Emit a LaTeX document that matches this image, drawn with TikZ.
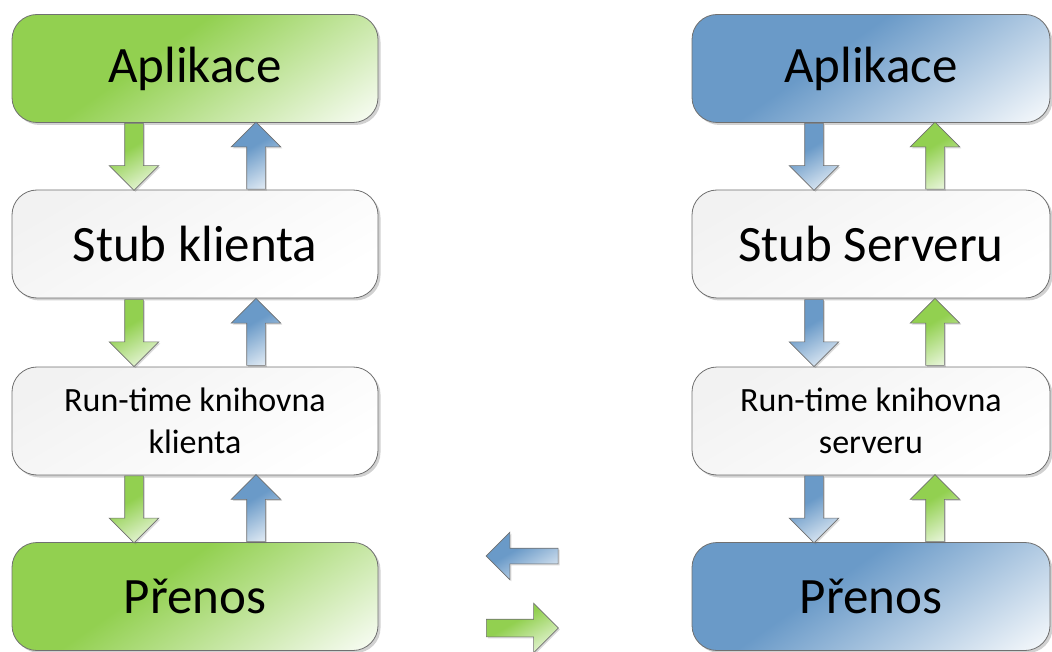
\documentclass[tikz,border=0pt]{standalone}
\usepackage{fontspec}
\setmainfont{Carlito}
\usetikzlibrary{shapes.arrows,shadows,calc}
\definecolor{grn}{HTML}{92D050}
\definecolor{blu}{HTML}{6A9AC8}
\definecolor{rim}{HTML}{707070}
\pgfdeclarehorizontalshading{grnfade}{100bp}{color(0bp)=(grn); color(42bp)=(grn);
	color(82bp)=(grn!10!white); color(100bp)=(grn!10!white)}
\pgfdeclarehorizontalshading{blufade}{100bp}{color(0bp)=(blu); color(42bp)=(blu);
	color(82bp)=(blu!10!white); color(100bp)=(blu!10!white)}
\pgfdeclarehorizontalshading{palefade}{100bp}{color(0bp)=(black!5); color(25bp)=(black!5);
	color(75bp)=(white); color(100bp)=(white)}
\tikzset{
    box/.style={rounded corners=25pt, draw=rim, line width=0.8pt, shade,
    	minimum height=108pt, align=center,
    	drop shadow={shadow xshift=2.5pt, shadow yshift=-2.5pt, opacity=.3, fill=black!60}},
    big/.style={font=\fontsize{51}{60}\selectfont},
    small/.style={font=\fontsize{34}{42}\selectfont},
    green box/.style={box, shading=grnfade, shading angle=-55},
    blue box/.style={box, shading=blufade, shading angle=-55},
    pale box/.style={box, shading=palefade, shading angle=-60}
}
\tikzset{
    flow/.style={single arrow, draw=rim, line width=0.6pt, shade, inner sep=9pt,
    	single arrow head extend=15.5pt, minimum height=67pt,
    	drop shadow={shadow xshift=1.5pt, shadow yshift=-1.5pt, opacity=.25, fill=black!60}},
    green flow/.style={flow, shading=grnfade, shading angle=-60},
    blue flow/.style={flow, shading=blufade, shading angle=-60}
}

\begin{document}
\begin{tikzpicture}[x=1pt, y=-1pt]
	\useasboundingbox (0,0) rectangle (1052,652);
	% klient
	\node (apl1) [green box, big, minimum width=366pt] at (195,68.5) {Aplikace};
	\node (stub1) [pale box, big, minimum width=366pt] at (195,244) {Stub klienta};
	\node (rt1) [pale box, small, minimum width=366pt] at (195,421) {Run-time knihovna\\klienta};
	\node (pre1) [green box, big, minimum width=366pt] at (195,596.5) {Přenos};
	% server
	\node (apl2) [blue box, big, minimum width=358pt] at (871,68.5) {Aplikace};
	\node (stub2) [pale box, big, minimum width=358pt] at (871,244) {Stub Serveru};
	\node (rt2) [pale box, small, minimum width=358pt] at (871,421) {Run-time knihovna\\serveru};
	\node (pre2) [blue box, big, minimum width=358pt] at (871,596.5) {Přenos};

	\node (d1) [green flow, shape border rotate=270] at ($(apl1.south)!.5!(stub1.north)+(-61,-4)$) {};
	\node (u1) [blue flow, shape border rotate=90] at ($(apl1.south)!.5!(stub1.north)+(61,4)$) {};
	\node (d2) [green flow, shape border rotate=270] at ($(stub1.south)!.5!(rt1.north)+(-61,-4)$) {};
	\node (u2) [blue flow, shape border rotate=90] at ($(stub1.south)!.5!(rt1.north)+(61,4)$) {};
	\node (d3) [green flow, shape border rotate=270] at ($(rt1.south)!.5!(pre1.north)+(-61,-4)$) {};
	\node (u3) [blue flow, shape border rotate=90] at ($(rt1.south)!.5!(pre1.north)+(61,4)$) {};

	\node (d4) [blue flow, shape border rotate=270] at ($(apl2.south)!.5!(stub2.north)+(-57,-4)$) {};
	\node (u4) [green flow, shape border rotate=90] at ($(apl2.south)!.5!(stub2.north)+(64,4)$) {};
	\node (d5) [blue flow, shape border rotate=270] at ($(stub2.south)!.5!(rt2.north)+(-57,-4)$) {};
	\node (u5) [green flow, shape border rotate=90] at ($(stub2.south)!.5!(rt2.north)+(64,4)$) {};
	\node (d6) [blue flow, shape border rotate=270] at ($(rt2.south)!.5!(pre2.north)+(-57,-4)$) {};
	\node (u6) [green flow, shape border rotate=90] at ($(rt2.south)!.5!(pre2.north)+(64,4)$) {};

	\node (back) [blue flow, shape border rotate=180, minimum height=72pt, inner sep=7.5pt,
		single arrow head extend=16pt] at (526,556) {};
	\node (send) [green flow, shape border rotate=0, minimum height=72pt, inner sep=8.5pt,
		single arrow head extend=16pt] at (518,628) {};
\end{tikzpicture}
\end{document}
